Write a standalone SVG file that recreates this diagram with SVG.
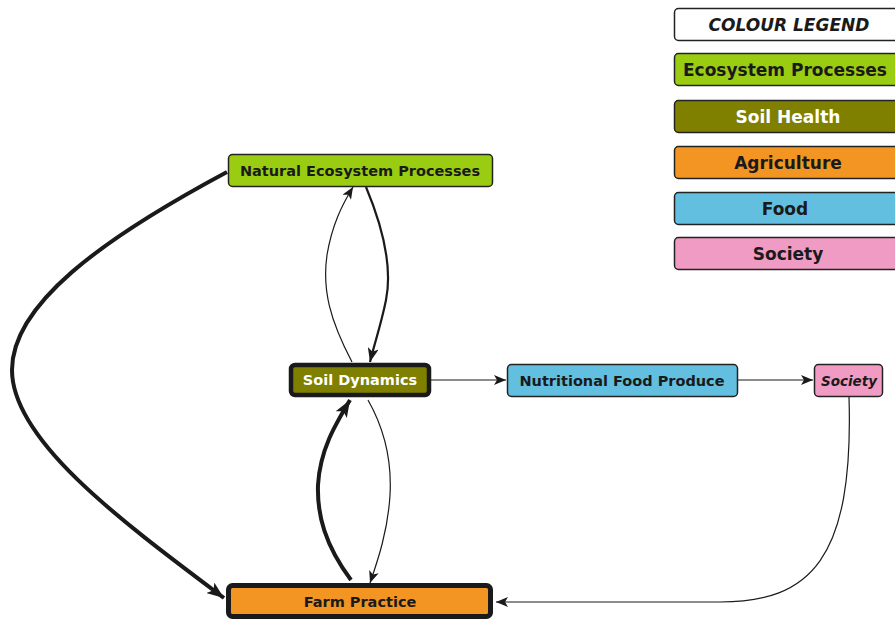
<svg xmlns="http://www.w3.org/2000/svg" width="895" height="621" viewBox="0 0 895 621">
<defs>
<style>
.lbl{font-family:"DejaVu Sans","Liberation Sans",sans-serif;font-weight:bold;text-anchor:middle;dominant-baseline:central;fill:#1a1a1a}
.leg{font-size:17px}
.nd{font-size:14.5px}
.wt{fill:#ffffff}
.box{stroke:#222;stroke-width:1.5}
.e{fill:none;stroke:#1a1a1a}
.e1{stroke-width:1.2}
.e2{stroke-width:2.2}
.e4{stroke-width:4}
</style>
<marker id="as" markerUnits="userSpaceOnUse" viewBox="0 0 12 10" markerWidth="12" markerHeight="10" refX="12" refY="5" orient="auto">
<path d="M0,0 L12,5 L0,10 L3,5 z" fill="#1a1a1a"/>
</marker>
<marker id="am" markerUnits="userSpaceOnUse" viewBox="0 0 14 11" markerWidth="14" markerHeight="11" refX="14" refY="5.5" orient="auto">
<path d="M0,0 L14,5.5 L0,11 L3.5,5.5 z" fill="#1a1a1a"/>
</marker>
<marker id="al" markerUnits="userSpaceOnUse" viewBox="0 0 17 13" markerWidth="17" markerHeight="13" refX="17" refY="6.5" orient="auto">
<path d="M0,0 L17,6.5 L0,13 L4,6.5 z" fill="#1a1a1a"/>
</marker>
</defs>
<g id="connectors">
<path class="e e4" d="M227,172 C100,240 12,305 12,370 C12,440 120,520 224,598" marker-end="url(#al)"/>
<path class="e e2" d="M366,187 C384,230 392,270 386,300 C381,325 374,345 370,362" marker-end="url(#am)"/>
<path class="e e1" d="M352,362 C330,320 322,290 327,255 C332,225 342,205 353,187" marker-end="url(#as)"/>
<path class="e e4" d="M351,580 C325,545 317,515 318,485 C320,450 335,425 350,400" marker-end="url(#al)"/>
<path class="e e1" d="M368,400 C385,430 392,460 390,495 C388,530 378,560 370,583" marker-end="url(#as)"/>
<path class="e e1" d="M431,380 L506,380" marker-end="url(#as)"/>
<path class="e e1" d="M738,380 L813,380" marker-end="url(#as)"/>
<path class="e e1" d="M849,397 C854,560 810,602 720,602 L496,602" marker-end="url(#as)"/>
</g>
<g id="legend-title"><rect class="box" x="674.5" y="8.5" width="226" height="32" rx="4" fill="#ffffff"/><text class="lbl leg" x="789" y="24.5" font-style="italic">COLOUR LEGEND</text></g>
<g id="legend-eco"><rect class="box" x="674.5" y="53.5" width="226" height="32" rx="4" fill="#9acd12"/><text class="lbl leg" x="785" y="69.5">Ecosystem Processes</text></g>
<g id="legend-soil"><rect class="box" x="674.5" y="100.5" width="226" height="32" rx="4" fill="#808000"/><text class="lbl leg wt" x="788" y="116.5">Soil Health</text></g>
<g id="legend-agri"><rect class="box" x="674.5" y="146.5" width="226" height="32" rx="4" fill="#f39522"/><text class="lbl leg" x="788" y="162.5">Agriculture</text></g>
<g id="legend-food"><rect class="box" x="674.5" y="192.5" width="226" height="32" rx="4" fill="#62bfe0"/><text class="lbl leg" x="785" y="208.5">Food</text></g>
<g id="legend-society"><rect class="box" x="674.5" y="237.5" width="226" height="32" rx="4" fill="#f09bc3"/><text class="lbl leg" x="788" y="253.5">Society</text></g>
<g id="natural-ecosystem-processes"><rect class="box" x="228.5" y="154.5" width="264" height="32" rx="4" fill="#9acd12"/><text class="lbl nd" x="360" y="171">Natural Ecosystem Processes</text></g>
<g id="soil-dynamics"><rect x="291" y="365" width="138" height="30" rx="4" fill="#808000" stroke="#1a1a1a" stroke-width="4.5"/><text class="lbl nd wt" x="360" y="380">Soil Dynamics</text></g>
<g id="nutritional-food-produce"><rect class="box" x="507.5" y="364.5" width="230" height="32" rx="4" fill="#62bfe0"/><text class="lbl nd" x="622" y="380.5">Nutritional Food Produce</text></g>
<g id="society"><rect class="box" x="814.5" y="364.5" width="68" height="32" rx="4" fill="#f09bc3"/><text class="lbl" x="849" y="380.5" font-size="13.5" font-style="italic">Society</text></g>
<g id="farm-practice"><rect x="228.5" y="585.5" width="262" height="31" rx="4" fill="#f39522" stroke="#1a1a1a" stroke-width="5"/><text class="lbl nd" x="360" y="601.5">Farm Practice</text></g>
</svg>
